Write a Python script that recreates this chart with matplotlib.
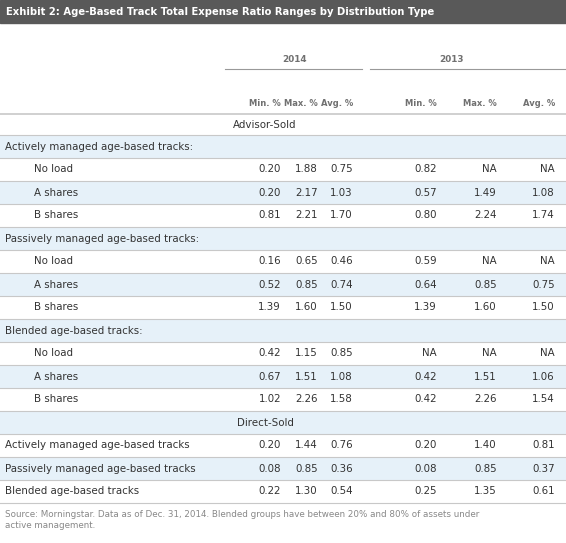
import matplotlib
matplotlib.use("Agg")
import matplotlib.pyplot as plt
from matplotlib.patches import Rectangle
from matplotlib.lines import Line2D

title = "Exhibit 2: Age-Based Track Total Expense Ratio Ranges by Distribution Type"
years = ["2014", "2013"]
col_heads = ["Min. %", "Max. %", "Avg. %", "Min. %", "Max. %", "Avg. %"]
rows = [
    ("Advisor-Sold", "section", None),
    ("Actively managed age-based tracks:", "group", None),
    ("No load", "sub", ["0.20", "1.88", "0.75", "0.82", "NA", "NA"]),
    ("A shares", "sub", ["0.20", "2.17", "1.03", "0.57", "1.49", "1.08"]),
    ("B shares", "sub", ["0.81", "2.21", "1.70", "0.80", "2.24", "1.74"]),
    ("Passively managed age-based tracks:", "group", None),
    ("No load", "sub", ["0.16", "0.65", "0.46", "0.59", "NA", "NA"]),
    ("A shares", "sub", ["0.52", "0.85", "0.74", "0.64", "0.85", "0.75"]),
    ("B shares", "sub", ["1.39", "1.60", "1.50", "1.39", "1.60", "1.50"]),
    ("Blended age-based tracks:", "group", None),
    ("No load", "sub", ["0.42", "1.15", "0.85", "NA", "NA", "NA"]),
    ("A shares", "sub", ["0.67", "1.51", "1.08", "0.42", "1.51", "1.06"]),
    ("B shares", "sub", ["1.02", "2.26", "1.58", "0.42", "2.26", "1.54"]),
    ("Direct-Sold", "section", None),
    ("Actively managed age-based tracks", "group", ["0.20", "1.44", "0.76", "0.20", "1.40", "0.81"]),
    ("Passively managed age-based tracks", "group", ["0.08", "0.85", "0.36", "0.08", "0.85", "0.37"]),
    ("Blended age-based tracks", "group", ["0.22", "1.30", "0.54", "0.25", "1.35", "0.61"]),
]
source = "Source: Morningstar. Data as of Dec. 31, 2014. Blended groups have between 20% and 80% of assets under\nactive management."

W, H = 566, 543
fig = plt.figure(figsize=(W/100, H/100), dpi=100)
ax = fig.add_axes([0, 0, 1, 1])
ax.set_xlim(0, W); ax.set_ylim(H, 0); ax.axis("off")

txt = "#333333"; hdr = "#707070"; blue = "#e6f1f9"; linec = "#c8c8c8"
fs = 7.4
ax.add_patch(Rectangle((0, 0), W, 23, color="#595959"))
ax.text(6, 12, title, color="white", fontsize=7.2, fontweight="bold", va="center")

year_x = [(225, 362), (370, 566)]
year_c = [295, 452]
for y, (a, b), c in zip(years, year_x, year_c):
    ax.text(c, 60, y, fontsize=6.4, fontweight="bold", color=hdr, ha="center", va="center")
    ax.add_line(Line2D([a, b], [69, 69], color="#999999", lw=0.8))

col_x = [281, 318, 353, 437, 497, 555]
for x, h in zip(col_x, col_heads):
    ax.text(x, 104, h, fontsize=6.0, fontweight="bold", color=hdr, ha="right", va="center")
ax.add_line(Line2D([0, W], [114, 114], color=linec, lw=1.2))

y0 = 114; rh = 23
for i, (lab, kind, vals) in enumerate(rows):
    top = y0 if i == 0 else y0 + 21 + (i-1)*rh
    h = 21 if i == 0 else rh
    yc = top + h/2
    if i % 2 == 1:
        ax.add_patch(Rectangle((0, top), W, h, color=blue, lw=0))
    ax.add_line(Line2D([0, W], [top+h, top+h], color=linec, lw=0.8))
    if kind == "section":
        ax.text(265, yc, lab, fontsize=fs, color=txt, ha="center", va="center")
    else:
        ax.text(34 if kind == "sub" else 5, yc, lab, fontsize=fs, color=txt, va="center")
    if vals:
        for x, v in zip(col_x, vals):
            ax.text(x, yc, v, fontsize=fs, color=txt, ha="right", va="center")

ax.text(5, 520, source, fontsize=6.3, color="#888888", va="center", linespacing=1.3)
fig.savefig("out.png", dpi=100)
